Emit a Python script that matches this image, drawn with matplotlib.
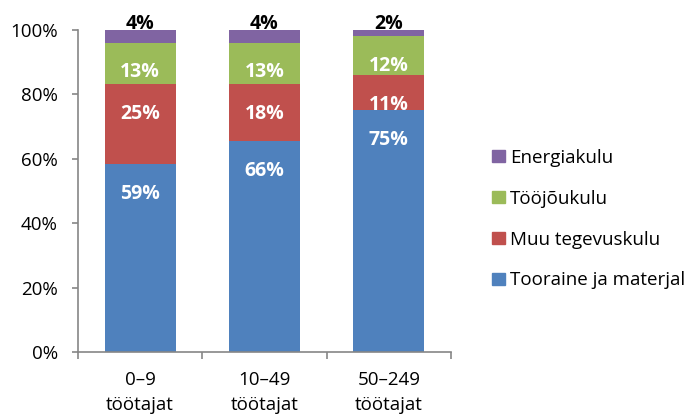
import matplotlib.pyplot as plt
from matplotlib.patches import Patch
import numpy as np

plt.rcParams['font.family'] = ['Open Sans', 'DejaVu Sans']

categories = ['0–9\ntöötajat', '10–49\ntöötajat', '50–249\ntöötajat']
series = ['Tooraine ja materjal', 'Muu tegevuskulu', 'Tööjõukulu', 'Energiakulu']
tooraine = [59, 66, 75]
muu = [25, 18, 11]
toojoud = [13, 13, 12]
energia = [4, 4, 2]
colors = ['#4F81BD', '#C0504D', '#9BBB59', '#8064A2']

values = np.array([tooraine, muu, toojoud, energia], dtype=float)
shares = values / values.sum(axis=0) * 100  # stacked to 100 %

fig = plt.figure(figsize=(6.87, 4.15), dpi=100)
ax = fig.add_axes([0.1135, 0.152, 0.543, 0.776])

x = np.arange(len(categories))
bottom = np.zeros(len(categories))
for i, name in enumerate(series):
    ax.bar(x, shares[i], 0.573, bottom=bottom, color=colors[i], label=name)
    tops = bottom + shares[i]
    for j in range(len(x)):
        lab = f'{int(values[i, j])}%'
        if i == len(series) - 1:
            # small top segment -> label above the bar
            ax.annotate(lab, (x[j], tops[j]), xytext=(0, 0.5), textcoords='offset points',
                        ha='center', va='baseline', fontsize=14, fontweight='bold', color='black')
        else:
            ax.annotate(lab, (x[j], tops[j]), xytext=(0, -21.5), textcoords='offset points',
                        ha='center', va='center', fontsize=14, fontweight='bold', color='white')
    bottom = tops

ax.set_xlim(-0.5, 2.5)
ax.set_ylim(0, 100)
ax.set_yticks(np.arange(0, 101, 20))
ax.set_yticklabels([f'{v}%' for v in range(0, 101, 20)])
ax.set_xticks(x)
ax.set_xticklabels(categories, linespacing=1.45)
ax.set_xticks(np.arange(-0.5, 2.6, 1), minor=True)

for s in ['top', 'right']:
    ax.spines[s].set_visible(False)
for s in ['left', 'bottom']:
    ax.spines[s].set_color('#868686')
    ax.spines[s].set_linewidth(1.2)

ax.tick_params(axis='y', length=4.5, width=1.2, color='#868686', pad=10, labelsize=13.5)
ax.tick_params(axis='x', which='major', length=0, pad=14, labelsize=13.5)
ax.tick_params(axis='x', which='minor', length=5, width=1.2, color='#868686')

handles = [Patch(color=colors[i], label=series[i]) for i in range(len(series))][::-1]
fig.legend(handles=handles, loc='center left', bbox_to_anchor=(0.703, 0.472), frameon=False,
           fontsize=13.5, handlelength=0.65, handleheight=0.65, handletextpad=0.3,
           labelspacing=1.22, borderpad=0)

fig.savefig('out.png', dpi=100)
